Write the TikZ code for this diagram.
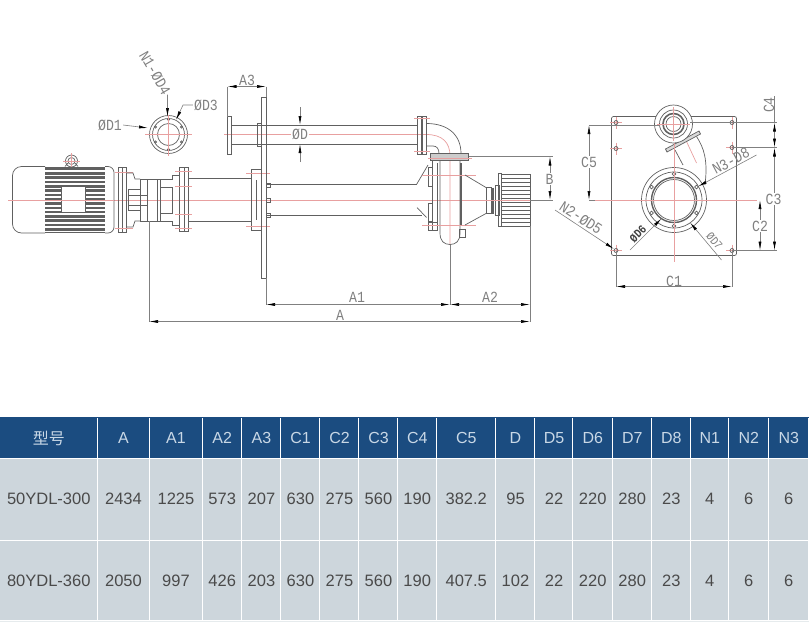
\documentclass[tikz,border=0pt]{standalone}
\usepackage{fontspec}
\setmainfont{Liberation Sans}
\newfontfamily\cjk{Noto Sans CJK SC}
\newfontfamily\cad[FakeStretch=0.85]{Liberation Mono}
\usetikzlibrary{arrows.meta}
\definecolor{headblue}{HTML}{1B4C80}
\definecolor{cellgrey}{HTML}{CDD6DC}
\definecolor{celltext}{HTML}{4A4A4A}
\definecolor{headtext}{HTML}{C9D8E6}
\definecolor{axisred}{HTML}{E8A0A0}
\definecolor{partline}{HTML}{606060}
\definecolor{dimgrey}{HTML}{808080}
\tikzset{
  part/.style={draw=partline,line width=0.7pt},
  axis/.style={draw=axisred,line width=0.7pt},
  dimline/.style={draw=dimgrey,line width=0.6pt},
  dimtip/.style={dimline,{Latex[length=9pt,width=3pt,black]}-{Latex[length=9pt,width=3pt,black]}},
  leader/.style={dimline,-{Latex[length=9pt,width=3pt,black]}},
  cadlabel/.style={font=\cad\fontsize{15.5}{15.5}\selectfont,text=dimgrey,inner sep=1pt},
  cadback/.style={cadlabel,fill=white},
  headcell/.style={font=\fontsize{16}{16}\selectfont,text=headtext,inner sep=0pt},
  bodycell/.style={font=\fontsize{16.5}{16.5}\selectfont,text=celltext,inner sep=0pt}
}
\begin{document}
\begin{tikzpicture}[x=1pt,y=-1pt]
    \useasboundingbox (0,0) rectangle (809,622);

    % Axes of the side view
    \draw[axis] (8,200)--(538,200);
    \draw[axis] (224,134.5)--(426,134.5);
    \draw[axis] (426,134.5)..controls (442,134.5) and (450,142)..(450,156)--(450,245);

    % Motor: end caps, fins, window
    \draw[part,rounded corners=9pt] (45,166.5)--(12.5,166.5)--(12.5,233)--(45,233);
    \draw[part,rounded corners=6pt] (105,166.5)--(114,166.5)--(114,233)--(105,233);
    \fill[partline] (45,166.5) rectangle (105,233);
    \foreach \i in {1,...,15} \draw[white,line width=1.7pt] (45,167+4.3*\i)--(105,167+4.3*\i);
    \fill[white] (61.5,186.5) rectangle (85.5,212.5);
    \draw[part] (61.5,186.5) rectangle (85.5,212.5);
    \draw[axis] (8,200)--(114,200);
    % Motor eye
    \draw[part] (71.5,161) circle (6);
    \draw[part] (71.5,161) circle (3.5);
    \draw[part] (65,166.5)--(68,163);
    \draw[part] (78,166.5)--(75,163);
    \draw[axis] (71.5,153)--(71.5,167);
    \draw[axis] (63,161)--(80,161);

    % Motor flange and bracket
    \draw[part] (118.5,167) rectangle (126,232.5);
    \draw[part] (122,167)--(122,232.5);
    \foreach \y in {172.5,228.5} \draw[axis] (115,\y)--(133,\y);
    \draw[part] (126,173)--(133,173)--(135,179)--(140,179);
    \draw[part] (126,227)--(133,227)--(135,221)--(140,221);
    \draw[part] (140,179) rectangle (157,221);
    \draw[part,line width=1.2pt] (147.5,179)--(147.5,221);
    \draw[part] (157,179) rectangle (160.5,221);
    \draw[part] (128.5,189.5) rectangle (140,210);
    \draw[part] (128.5,195) rectangle (147,205);
    \draw[part] (160.5,187.5) rectangle (172,213);
    \draw[part] (160.5,179)--(172,179)--(172,175)--(179.5,175);
    \draw[part] (160.5,221)--(172,221)--(172,225)--(179.5,225);

    % Column flanges and column pipe
    \draw[part] (179.5,167.5) rectangle (188.5,231.5);
    \draw[part] (184,167.5)--(184,231.5);
    \foreach \y in {171.5,186,214.5,228.5} \draw[axis] (175,\y)--(192,\y);
    \draw[part] (188.5,178.5)--(251.5,178.5);
    \draw[part] (188.5,221.5)--(251.5,221.5);
    \draw[part] (251.5,169.5) rectangle (261.5,230.5);
    \draw[part,line width=1pt] (256.5,180)--(256.5,220);
    \foreach \y in {173.5,226.5} \draw[axis] (246,\y)--(270,\y);

    % Mounting plate
    \draw[part] (261.5,97) rectangle (266,278);
    \draw[part] (266,184.5)--(416.5,184.5);
    \draw[part] (266,215.5)--(421.5,215.5);
    \foreach \y in {185,200,215} \draw[part] (266,\y-2) rectangle (270,\y+2);

    % Discharge pipe
    \draw[part] (227.5,116.5) rectangle (231.5,154.5);
    \draw[part] (231.5,125)--(417.5,125);
    \draw[part] (231.5,144)--(417.5,144);
    \draw[part] (257.5,123) rectangle (261.5,146.5);
    \draw[part] (417.5,116) rectangle (426.5,154);
    \draw[part,line width=1.2pt] (422,116)--(422,154);
    \foreach \y in {118,151} \draw[axis] (414,\y)--(430,\y);
    \draw[part] (426.5,123.5)..controls (448,123.5) and (461,135)..(461,153.5);
    \draw[part] (426.5,146)--(433,146)..controls (437,146) and (439,149)..(439,153.5);

    % Pump casing
    \draw[part,fill=gray!40] (430,153.5) rectangle (468.5,160);
    \draw[axis] (428,158)--(472,158);
    \draw[part] (432.5,160)--(432.5,231);
    \draw[part] (440,160)--(440,233)..controls (440,241) and (444,244.5)..(450,244.5)..controls (456,244.5) and (460,241)..(460,233)--(460,160);
    \draw[part,line width=1.3pt] (437.5,163)--(437.5,225);
    \draw[part,line width=1.3pt] (461,163)--(461,225);
    \draw[part] (428,167) rectangle (432.5,186);
    \draw[part] (428,203) rectangle (432.5,221.5);
    \draw[part] (428,222.5) rectangle (437,230.5);
    \draw[part] (459.5,229.5) rectangle (465,237);
    \draw[part] (416.5,184.5)--(428,165);
    \draw[part] (417,207.5)--(426.5,217.5);
    \foreach \y in {175,225} \draw[axis] (422,\y)--(476,\y);

    % Pump motor cover
    \draw[part] (465,175)--(486,187.5);
    \draw[part] (465,225)--(486,213.5);
    \draw[part] (486,187.5) rectangle (491.5,213.5);
    \draw[part,line width=1.8pt] (493,187.5)--(493,213.5);
    \draw[part] (495,185) rectangle (499,215);
    \draw[part] (498.5,173.5) rectangle (501,226.5);
    \draw[part] (501,174) rectangle (530,226);
    \foreach \i in {1,...,12} \draw[part,line width=0.7pt] (501,174+4*\i)--(530,174+4*\i);
    \draw[axis] (480,200)--(538,200);

    % Dimensions of the side view
    \coordinate (a3l) at (227.5,86.5);
    \coordinate (a3r) at (266,86.5);
    \draw[dimline] (a3l)--(227.5,116.5);
    \draw[dimline] (a3r)--(266,97);
    \draw[dimtip] (a3l)--(a3r);
    \node[cadback] (labelAthree) at (247,80) {A3};
    \coordinate (a1l) at (266,304.5);
    \coordinate (a1r) at (450,304.5);
    \coordinate (a2r) at (530,304.5);
    \coordinate (al) at (149,321.5);
    \coordinate (ar) at (530,321.5);
    \draw[dimline] (266,278)--(a1l);
    \draw[dimline] (450,245)--(a1r);
    \draw[dimline] (530,226)--(ar);
    \draw[dimline] (149,221)--(al);
    \draw[dimtip] (a1l)--(a1r);
    \draw[dimtip] (a1r)--(a2r);
    \draw[dimtip] (al)--(ar);
    \node[cadlabel] (labelAone) at (357,297.5) {A1};
    \node[cadlabel] (labelAtwo) at (490,297.5) {A2};
    \node[cadlabel] (labelA) at (340,315.5) {A};
    \coordinate (dtop) at (300,125);
    \coordinate (dbot) at (300,144);
    \draw[leader] (300,107)--(dtop);
    \draw[leader] (300,162)--(dbot);
    \node[cadback] (labelD) at (300,134.5) {ØD};
    \coordinate (bt) at (550,156.5);
    \coordinate (bb) at (550,200);
    \draw[dimline] (468.5,156.5)--(553,156.5);
    \draw[dimline] (530,200)--(553,200);
    \draw[dimtip] (bt)--(bb);
    \node[cadback] (labelB) at (549.5,179) {B};

    % Outlet flange view
    \foreach \r in {19,16,11} \draw[part] (168.5,134.5) circle (\r);
    \foreach \a in {30,90,...,330} \draw[part] (168.5,134.5)++(\a:15) circle (1.2);
    \draw[axis] (145,134.5)--(192,134.5);
    \draw[axis] (168.5,115)--(168.5,156);
    \coordinate (ndfour) at (167.5,117);
    \coordinate (dthree) at (176,120);
    \coordinate (done) at (148,128);
    \node[cadlabel,rotate=-60] (labelNone) at (155,73) {N1-ØD4};
    \node[cadlabel] (labelDthree) at (206,105) {ØD3};
    \node[cadlabel] (labelDone) at (110,125) {ØD1};
    \draw[leader] (labelNone.east)--(ndfour);
    \draw[leader] (labelDthree.west)--(183,105)--(dthree);
    \draw[leader] (labelDone.east)--(done);

    % Base plate view
    \draw[part,rounded corners=2pt] (611.5,116.5) rectangle (736.5,255.5);
    \foreach \x/\y in {616/122.5,732/122.5,616/148.5,732/147.5,616/250.5,732/250.5} {
        \draw[axis] (\x-6,\y)--(\x+6,\y);
        \draw[axis] (\x,\y-6)--(\x,\y+6);
        \draw[part] (\x,\y) circle (2);
    }

    % Pipe and elbow behind the flanges
    \draw[part] (696.5,136.5)..controls (704,148) and (708,160)..(705,185);
    \draw[part] (675,150)--(683,165);
    \draw[axis] (686.5,141.5)--(696.5,163);
    \draw[part,fill=gray!30] (665.5,149)--(699,131)--(700.5,134)--(667,152)--cycle;

    % Large flange
    \foreach \r in {32.5,28,20.5} \draw[part] (674,200) circle (\r);
    \draw[part,line width=1.4pt] (674,200) circle (22.5);
    \foreach \a in {30,90,...,330} \draw[part] (674,200)++(\a:26) circle (1.8);
    \draw[axis] (595,200)--(756.5,200);
    \draw[axis] (674,111)--(674,262);

    % Small flange
    \draw[part,fill=white] (673.5,124) circle (19);
    \draw[part] (673.5,124) circle (14);
    \draw[part,line width=1.6pt] (673.5,124) circle (10.5);
    \draw[part] (673.5,124) circle (7.5);
    \draw[axis] (657,124)--(690,124);
    \draw[axis] (673.5,107)--(673.5,141);

    % Dimensions of the base plate view
    \coordinate (cfivet) at (589,125);
    \coordinate (cfiveb) at (589,200);
    \draw[dimline] (cfivet)--(660,125);
    \draw[dimline] (cfiveb)--(595,200);
    \draw[dimtip] (cfivet)--(cfiveb);
    \node[cadback] (labelCfive) at (589,162) {C5};
    \coordinate (cfourt) at (774.5,122.5);
    \coordinate (cfourb) at (774.5,147.5);
    \coordinate (cthreeb) at (774.5,250.5);
    \coordinate (ctwot) at (760,200);
    \coordinate (ctwob) at (760,250.5);
    \draw[dimline] (690,122.5)--(777,122.5);
    \draw[dimline] (732,147.5)--(777,147.5);
    \draw[dimline] (732,250.5)--(777,250.5);
    \draw[dimline] (774.5,96)--(cfourt);
    \draw[leader] (774.5,135)--(cfourt);
    \draw[leader] (774.5,135)--(cfourb);
    \draw[dimtip] (cfourb)--(cthreeb);
    \draw[dimtip] (ctwot)--(ctwob);
    \node[cadlabel,rotate=90] (labelCfour) at (769,105) {C4};
    \node[cadback] (labelCthree) at (773.5,199) {C3};
    \node[cadback] (labelCtwo) at (760,226) {C2};
    \coordinate (conel) at (616,286.5);
    \coordinate (coner) at (732,286.5);
    \draw[dimline] (616,250.5)--(conel);
    \draw[dimline] (732,250.5)--(coner);
    \draw[dimtip] (conel)--(coner);
    \node[cadlabel] (labelCone) at (674,281) {C1};

    % Hole and ring callouts
    \coordinate (ntwo) at (614,249);
    \coordinate (nthree) at (698,186.5);
    \coordinate (dsix) at (661.5,218.5);
    \coordinate (dseven) at (690,222.5);
    \draw[leader] (555,210)--(ntwo);
    \draw[leader] (756.5,155)--(nthree);
    \draw[leader] (630,250)--(dsix);
    \draw[leader] (721.5,260)--(dseven);
    \node[cadlabel,rotate=-33] (labelNtwo) at (581,218) {N2-ØD5};
    \node[cadlabel,rotate=28] (labelNthree) at (731,161) {N3-D8};
    \node[cadlabel,rotate=45,font=\cad\bfseries\fontsize{12}{12}\selectfont,text=black!75] (labelDsix) at (638,234) {ØD6};
    \node[cadlabel,rotate=-50,font=\cad\fontsize{12}{12}\selectfont] (labelDseven) at (714.5,241) {ØD7};

    % Table
    \draw[headblue,line width=1pt] (0,417.5)--(809,417.5);
    \fill[cellgrey!50!white] (0,620.5) rectangle (809,622);
    \foreach \i/\xl/\xr/\hd/\ra/\rb in {
        1/0/97.5/{\cjk 型号}/50YDL-300/80YDL-360,
        2/97.5/149.5/A/2434/2050,
        3/149.5/202.5/A1/1225/997,
        4/202.5/242/A2/573/426,
        5/242/281/A3/207/203,
        6/281/320/C1/630/630,
        7/320/359/C2/275/275,
        8/359/398/C3/560/560,
        9/398/436.5/C4/190/190,
        10/436.5/496/C5/382.2/407.5,
        11/496/535/D/95/102,
        12/535/573/D5/22/22,
        13/573/612.5/D6/220/220,
        14/612.5/652/D7/280/280,
        15/652/690.5/D8/23/23,
        16/690.5/729/N1/4/4,
        17/729/768.5/N2/6/6,
        18/768.5/809/N3/6/6} {
        \fill[headblue] (\xl,418) rectangle (\xr-0.8,458);
        \fill[cellgrey] (\xl,459) rectangle (\xr-0.8,539.5);
        \fill[cellgrey] (\xl,540.5) rectangle (\xr-0.8,620);
        \node[headcell] (head\i) at ({(\xl+\xr)/2},438) {\hd};
        \node[bodycell] (ra\i) at ({(\xl+\xr)/2},498.5) {\ra};
        \node[bodycell] (rb\i) at ({(\xl+\xr)/2},580.5) {\rb};
    }
\end{tikzpicture}
\end{document}
